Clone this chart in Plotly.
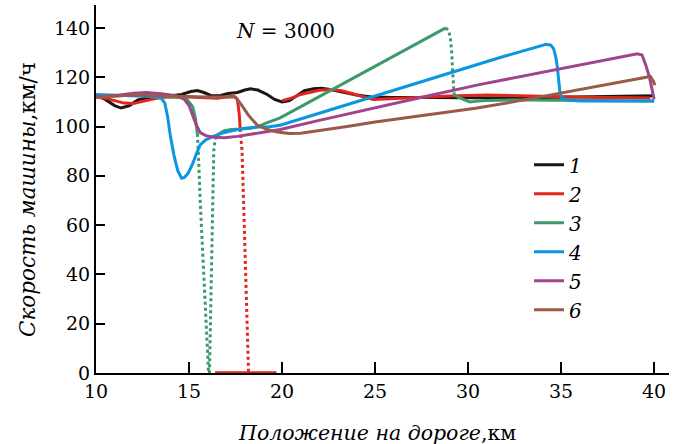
import plotly.graph_objects as go

# ---------------- data ----------------
series_names = ["1", "2", "3", "4", "5", "6"]
series_colors = ["#1e1612", "#e2261d", "#3c9a6a", "#0a96e0", "#a0448c", "#9a5a4a"]

x1 = [10, 10.5, 11, 11.35, 11.8, 12.25, 13, 13.8, 14.6, 15.1, 15.45, 15.8, 16.2, 16.7, 17.1, 17.6, 18.0, 18.3,
      18.7, 19.2, 19.6, 20.0, 20.4, 20.8, 21.2, 21.7, 22.1, 22.6, 23.2, 24.0, 24.8, 26, 28, 30, 32, 34, 36, 38, 40]
v1 = [112.8, 111, 108.5, 107.5, 108.5, 110.8, 112, 112.3, 113, 114.2, 114.6, 113.8, 112.5, 112.6, 113.4, 113.8,
      114.8, 115.3, 114.8, 113, 111, 110, 110.5, 112.5, 114.5, 115.3, 115.5, 115, 114, 112.8, 112, 111.8, 111.8,
      111.6, 111.6, 111.8, 112, 112.3, 112.5]

x2a = [10, 10.5, 11, 11.5, 12, 12.5, 13, 13.5, 14, 15, 16, 16.5, 17, 17.4, 17.6, 17.7, 17.75]
v2a = [112, 111.5, 110.5, 109.5, 109.3, 110, 111, 111.8, 112, 112, 111.5, 111.5, 112, 112.3, 111, 105, 99]
x2_dot = [17.75, 17.85, 17.95, 18.05, 18.15, 18.2]
v2_dot = [99, 90, 65, 35, 8, 0]
x2_stop = [16.4, 19.7]
v2_stop = [0.3, 0.3]
x2b = [20.0, 20.5, 21, 21.5, 22, 22.6, 23.2, 23.8, 24.4, 24.9, 25.5, 27, 29, 31, 33, 35, 37, 39, 39.8]
v2b = [110.5, 111.5, 113, 114, 114.7, 115, 114.5, 113.3, 112, 111, 111.2, 111.8, 112.4, 112.8, 112.4, 112, 111.8,
       111.7, 111.6]

x3a = [10, 11, 12, 13, 14, 14.6, 14.9, 15.2, 15.35, 15.45]
v3a = [112, 112.3, 112.8, 112.5, 112, 111.8, 111, 108, 103, 97]
x3_dot1 = [15.45, 15.5, 15.6, 15.75, 15.9, 16.0, 16.05, 16.1, 16.15, 16.22, 16.29, 16.33, 16.4]
v3_dot1 = [97, 90, 70, 45, 20, 3, 0, 0, 20, 50, 80, 90, 95]
x3b = [16.4, 16.6, 16.9, 17.3, 17.8, 18.3, 18.7, 19.1, 19.9, 21, 22.5, 24.2, 26, 27.5, 28.8]
v3b = [95, 97, 98.3, 98.8, 99, 99.3, 100, 101.3, 103.5, 108, 114.2, 121.2, 128.6, 134.8, 140]
x3_dot2 = [28.8, 28.95, 29.05, 29.12, 29.17, 29.2, 29.25]
v3_dot2 = [140, 139, 136, 130, 122, 116, 113]
x3c = [29.25, 29.5, 29.8, 30.1, 30.5, 31, 33, 35, 37, 39, 40]
v3c = [113, 111.8, 110.8, 110, 110.3, 110.6, 110.8, 110.7, 110.5, 110.4, 110.4]

x4 = [10, 11, 12, 13, 13.5, 13.7, 13.85, 14.0, 14.2, 14.4, 14.6, 14.75, 14.95, 15.2, 15.4, 15.6, 15.9, 16.3,
      16.8, 17.3, 18, 18.7, 19.3, 19.9, 22, 25.3, 28.8, 31.5, 34.2, 34.45, 34.6, 34.72, 34.8, 34.88, 34.95, 35.05,
      35.3, 36, 38, 40]
v4 = [113, 112.8, 112.5, 112.2, 111.5, 109.5, 104, 96, 88, 82, 79, 79.3, 81, 85, 89, 92.5, 94.6, 96, 97.3, 98.3,
      99.3, 99.8, 99.9, 100.5, 105.4, 113, 121.2, 127.5, 133.4, 133, 131.5, 128, 124, 117, 113, 111.5, 110.7,
      110.4, 110.4, 110.4]

x5 = [10, 11, 12, 12.7, 13.5, 14.3, 14.75, 15.0, 15.2, 15.4, 15.6, 15.9, 16.4, 16.9, 17.6, 18.7, 19.9, 22, 25,
      28, 30.6, 33.3, 36, 38, 39.1, 39.35, 39.55, 39.75, 39.9, 40.0]
v5 = [112, 112.5, 113.5, 113.8, 113.3, 112.5, 111, 108.5, 104.5, 100.5, 97.5, 96.3, 95.6, 95.4, 96, 97.3, 98.8,
      102.5, 107.7, 112.7, 117, 121, 125.2, 128, 129.5, 129, 125, 120, 115, 111]

x6 = [10, 11, 12, 13, 14, 15, 16, 16.8, 17.5, 17.8, 18.2, 18.66, 19.2, 19.75, 20.4, 21, 22, 23.5, 25, 27.5,
      30.4, 32.5, 34.9, 37.5, 39.8, 39.95, 40.05]
v6 = [112, 112.5, 112.8, 112.5, 112.3, 112, 112, 112, 112, 109, 104.5, 100.6, 98.8, 97.8, 97.2, 97.3, 98.3, 100,
      101.8, 104.4, 107.4, 110.1, 113.5, 117, 120.3, 118.5, 116.8]

x_ticks = [10, 15, 20, 25, 30, 35, 40]
y_ticks = [0, 20, 40, 60, 80, 100, 120, 140]
x_title = "<i>Положение на дороге</i>,км"
y_title = "<i>Скорость машины</i>,км/ч"
note = "<i>N</i> = 3000"

FONT = "DejaVu Serif"
fig = go.Figure()

def add(x, v, idx, dash="solid", legend=False, width=3):
    fig.add_trace(go.Scatter(
        x=x, y=v, mode="lines",
        line=dict(color=series_colors[idx], width=width, dash=dash),
        name="<i>%s</i>" % series_names[idx],
        showlegend=legend, legendgroup=series_names[idx],
        hoverinfo="skip"))

add(x1, v1, 0, legend=True)
add(x2a, v2a, 1, legend=True)
add(x2_dot, v2_dot, 1, dash="dot")
add(x2_stop, v2_stop, 1, width=2)
add(x2b, v2b, 1)
add(x3a, v3a, 2, legend=True)
add(x3_dot1, v3_dot1, 2, dash="dot")
add(x3b, v3b, 2)
add(x3_dot2, v3_dot2, 2, dash="dot")
add(x3c, v3c, 2)
add(x4, v4, 3, legend=True)
add(x5, v5, 4, legend=True)
add(x6, v6, 5, legend=True)

axis_common = dict(
    showgrid=False, zeroline=False, showline=True, linecolor="black", linewidth=2,
    ticks="inside", tickcolor="black", tickwidth=1.5,
    tickfont=dict(family=FONT, size=19, color="black"),
)

fig.update_layout(
    width=675, height=444,
    margin=dict(l=96, r=6, t=5, b=71),
    paper_bgcolor="white", plot_bgcolor="white",
    xaxis=dict(range=[10, 40.8], tickvals=x_ticks, ticklen=11, **axis_common),
    yaxis=dict(range=[0, 149.3], tickvals=y_ticks, ticklen=9, **axis_common),
    showlegend=True,
    legend=dict(x=0.7557, y=0.619, xanchor="left", yanchor="top",
                font=dict(family=FONT, size=20, color="black"),
                bgcolor="rgba(0,0,0,0)", tracegroupgap=0),
    annotations=[
        dict(text=note, x=20.16, y=138.6, xref="x", yref="y", showarrow=False,
             font=dict(family=FONT, size=20, color="black")),
        dict(text=x_title, x=0.49, y=-0.163, xref="paper", yref="paper", showarrow=False,
             xanchor="center", yanchor="middle",
             font=dict(family=FONT, size=20.5, color="black")),
        dict(text=y_title, x=-0.1204, y=0.47, xref="paper", yref="paper", showarrow=False,
             xanchor="center", yanchor="middle", textangle=-90,
             font=dict(family=FONT, size=21.5, color="black")),
    ],
)

fig.write_html("out.html", post_script="document.body.style.margin='0';",
               config={"displayModeBar": False})
